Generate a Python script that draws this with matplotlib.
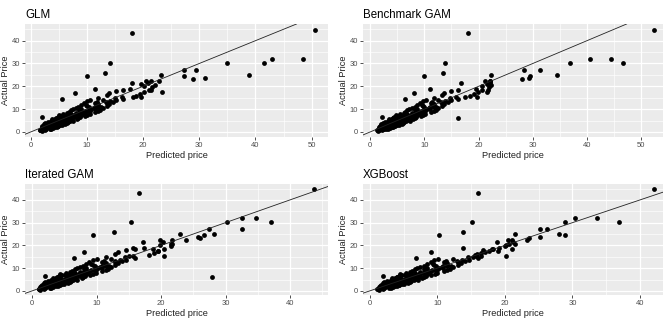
"""Actual vs predicted price for four models, ggplot-like 2x2 grid."""

import matplotlib
matplotlib.use('Agg')
import matplotlib.pyplot as plt
from matplotlib.ticker import MultipleLocator


# shared test-set actual prices (outliers first, then the main cluster)
actual = [
    44.6, 43.2, 30.4, 25.7, 24.5, 32.1, 32.1, 30.2, 30.2, 25.1,
    27.2, 27.2, 24.5, 23.2, 23.8, 25.1, 17.4, 22.2, 22.5, 22.2,
    20.7, 18.3, 15.2, 6.3, 6.5, 14.4, 17.2, 18.7, 21.3, 15.5,
    0.6, 0.8, 0.9, 1.0, 1.1, 1.2, 1.3, 1.4, 1.5, 1.6,
    1.7, 1.8, 1.9, 2.0, 2.1, 2.2, 2.3, 2.4, 2.5, 2.6,
    2.7, 2.8, 2.9, 3.0, 3.1, 3.2, 3.3, 3.4, 3.5, 3.6,
    3.7, 3.8, 3.9, 4.0, 4.1, 4.2, 4.3, 4.4, 4.5, 4.6,
    4.7, 4.8, 4.9, 5.0, 5.2, 5.4, 5.6, 5.8, 6.0, 6.2,
    6.4, 6.6, 6.8, 7.0, 7.2, 7.4, 7.6, 7.8, 8.0, 8.3,
    8.6, 8.9, 9.2, 9.5, 9.8, 10.1, 10.4, 10.7, 11.0, 11.4,
    11.8, 12.2, 12.6, 13.0, 13.4, 13.8, 14.2, 14.6, 15.0, 15.4,
    15.8, 16.2, 16.6, 17.0, 17.4, 17.8, 18.2, 18.6, 19.0, 19.6,
    20.2, 20.8, 21.4, 3.0, 4.0, 5.0, 6.0, 7.0, 8.0, 9.0,
    2.0, 2.5, 3.5, 4.5, 5.5, 6.5, 7.5, 10.0, 11.0, 12.0,
    1.0, 1.5, 2.0, 2.5, 3.0, 3.5, 4.0, 4.5, 5.0, 5.5,
    6.0, 6.5, 7.0, 7.5, 8.0, 8.5, 9.0, 9.5, 10.0, 10.5,
    11.0, 11.5, 12.5, 13.0, 13.5, 14.0, 1.2, 2.2, 3.2, 4.2,
    1.8, 2.6, 3.3, 4.1, 4.8, 5.3, 5.9, 6.4, 7.1, 7.7,
    8.2, 8.8, 9.4, 10.2, 10.8, 11.6, 12.3, 13.1, 3.6, 4.4,
    2.4, 3.0, 3.8, 4.6, 5.2, 5.8, 6.6, 7.3, 8.1, 9.1,
    0.9, 1.4, 2.9, 5.6, 6.9, 7.9, 9.7, 10.9, 12.9, 14.8,
]

pred_glm = [
    50.6, 18.0, 14.2, 13.2, 10.1, 43.0, 48.4, 34.9, 41.5, 38.9,
    27.3, 29.5, 27.3, 28.9, 31.0, 23.2, 23.4, 22.8, 21.4, 20.5,
    22.2, 21.4, 19.7, 7.2, 2.0, 5.6, 7.9, 11.4, 18.1, 18.2,
    2.1, 1.8, 2.5, 1.6, 3.4, 2.2, 1.9, 3.6, 2.4, 2.0,
    3.9, 2.6, 2.2, 4.3, 4.6, 2.7, 3.4, 2.5, 4.9, 3.2,
    2.5, 4.8, 3.5, 5.2, 2.6, 5.6, 3.0, 4.0, 6.2, 2.9,
    5.4, 3.2, 6.4, 3.3, 5.9, 3.1, 6.6, 4.0, 6.3, 3.6,
    7.0, 4.0, 6.2, 7.6, 4.2, 7.4, 4.5, 8.3, 4.6, 8.5,
    4.8, 8.8, 5.3, 9.6, 5.7, 9.0, 10.1, 5.8, 10.5, 6.5,
    11.5, 6.8, 12.0, 7.2, 12.4, 7.5, 12.8, 8.0, 12.0, 13.5,
    9.0, 14.0, 9.5, 14.6, 10.0, 15.2, 10.6, 16.5, 12.0, 16.2,
    18.8, 13.5, 19.5, 14.0, 20.2, 15.2, 21.0, 16.5, 17.6, 21.5,
    20.2, 19.6, 20.8, 4.5, 2.6, 5.9, 4.5, 6.2, 9.3, 10.2,
    2.6, 3.6, 2.4, 5.6, 3.8, 7.8, 5.0, 11.4, 8.5, 9.8,
    1.7, 2.8, 3.0, 2.1, 3.9, 4.5, 3.4, 5.3, 5.6, 4.3,
    5.0, 5.8, 8.0, 6.6, 7.2, 9.2, 10.5, 8.6, 9.0, 11.2,
    12.5, 10.0, 11.5, 11.8, 14.2, 12.8, 2.6, 2.0, 2.4, 4.8,
    2.5, 3.1, 3.9, 4.3, 5.5, 5.0, 6.6, 6.9, 7.3, 8.4,
    8.0, 9.6, 9.0, 10.8, 10.3, 11.9, 12.0, 13.4, 4.4, 4.9,
    3.2, 3.7, 4.5, 5.2, 5.9, 6.4, 7.1, 7.8, 8.7, 9.7,
    1.9, 2.3, 3.5, 6.3, 7.6, 8.6, 10.3, 11.4, 13.5, 15.0,
]

pred_gam = [
    52.4, 18.0, 13.9, 13.5, 10.0, 40.6, 44.5, 36.8, 46.7, 34.5,
    28.4, 31.4, 29.5, 28.1, 29.3, 22.3, 21.5, 22.2, 22.2, 21.2,
    22.3, 21.8, 19.8, 16.3, 2.2, 6.5, 8.1, 11.0, 16.8, 17.5,
    1.5, 1.3, 2.2, 1.4, 3.0, 1.9, 1.7, 3.3, 2.2, 1.6,
    3.6, 2.3, 2.0, 4.0, 4.3, 2.4, 3.1, 2.2, 4.6, 2.9,
    2.2, 4.5, 3.2, 4.9, 2.3, 5.3, 2.7, 3.7, 5.9, 2.6,
    5.1, 2.9, 6.1, 3.0, 5.6, 2.8, 6.3, 3.7, 6.0, 3.3,
    6.7, 3.7, 5.9, 7.3, 3.9, 7.1, 4.2, 8.0, 4.3, 8.2,
    4.5, 8.5, 5.0, 9.3, 5.4, 8.7, 9.8, 5.5, 10.2, 6.2,
    11.2, 6.5, 11.7, 6.9, 12.1, 7.2, 12.5, 7.7, 11.7, 13.2,
    8.7, 13.7, 9.2, 14.3, 9.7, 14.9, 10.3, 16.2, 11.7, 15.9,
    18.5, 13.2, 19.2, 13.7, 19.9, 14.9, 20.7, 16.2, 19.6, 21.9,
    20.7, 21.5, 22.1, 4.2, 2.3, 5.6, 4.2, 5.9, 9.0, 9.9,
    2.3, 3.3, 2.1, 5.3, 3.5, 7.5, 4.7, 11.1, 8.2, 9.5,
    1.4, 2.5, 2.7, 1.8, 3.6, 4.2, 3.1, 5.0, 5.3, 4.0,
    4.7, 5.5, 7.7, 6.3, 6.9, 8.9, 10.2, 8.3, 8.7, 10.9,
    12.2, 9.7, 11.2, 11.5, 13.9, 12.5, 2.3, 1.7, 2.1, 4.5,
    2.2, 2.8, 3.6, 4.0, 5.2, 4.7, 6.3, 6.6, 7.0, 8.1,
    7.7, 9.3, 8.7, 10.5, 10.0, 11.6, 11.7, 13.1, 4.1, 4.6,
    2.9, 3.4, 4.2, 4.9, 5.6, 6.1, 6.8, 7.5, 8.4, 9.4,
    1.6, 2.0, 3.2, 6.0, 7.3, 8.3, 10.0, 11.1, 13.2, 14.7,
]

pred_igam = [
    43.8, 16.6, 15.4, 12.7, 9.5, 32.5, 34.8, 30.2, 37.0, 28.2,
    27.4, 32.5, 26.6, 26.0, 25.8, 22.9, 19.5, 23.9, 21.7, 19.8,
    21.7, 18.7, 20.5, 27.9, 2.0, 6.5, 8.1, 15.6, 17.2, 15.0,
    1.2, 1.0, 1.9, 1.1, 2.8, 1.6, 1.4, 3.0, 1.9, 1.3,
    3.3, 2.0, 1.7, 3.7, 4.0, 2.1, 2.8, 1.9, 4.3, 2.6,
    1.9, 4.2, 2.9, 4.6, 2.0, 5.0, 2.4, 3.4, 5.6, 2.3,
    4.8, 2.6, 5.8, 2.7, 5.3, 2.5, 6.0, 3.4, 5.7, 3.0,
    6.4, 3.4, 5.6, 7.0, 3.6, 6.8, 3.9, 7.7, 4.0, 7.9,
    4.2, 8.2, 4.7, 9.0, 5.1, 8.4, 9.5, 5.2, 9.9, 5.9,
    10.9, 6.2, 11.4, 6.6, 11.8, 6.9, 12.2, 7.4, 11.4, 12.9,
    8.4, 13.4, 8.9, 14.0, 9.4, 14.6, 10.0, 15.9, 11.4, 15.6,
    18.2, 12.9, 18.9, 13.4, 19.6, 14.6, 20.4, 15.9, 17.3, 21.6,
    19.9, 21.6, 20.3, 3.9, 2.0, 5.3, 3.9, 5.6, 8.7, 9.6,
    2.0, 3.0, 1.8, 5.0, 3.2, 7.2, 4.4, 10.8, 7.9, 9.2,
    1.1, 2.2, 2.4, 1.5, 3.3, 3.9, 2.8, 4.7, 5.0, 3.7,
    4.4, 5.2, 7.4, 6.0, 6.6, 8.6, 9.9, 8.0, 8.4, 10.6,
    11.9, 9.4, 10.9, 11.2, 13.6, 12.2, 2.0, 1.4, 1.8, 4.2,
    1.9, 2.5, 3.3, 3.7, 4.9, 4.4, 6.0, 6.3, 6.7, 7.8,
    7.4, 9.0, 8.4, 10.2, 9.7, 11.3, 11.4, 12.8, 3.8, 4.3,
    2.6, 3.1, 3.9, 4.6, 5.3, 5.8, 6.5, 7.2, 8.1, 9.1,
    1.3, 1.7, 2.9, 5.7, 7.0, 8.0, 9.7, 10.8, 12.9, 14.4,
]

pred_xgb = [
    42.1, 16.0, 15.2, 13.8, 10.3, 30.4, 33.6, 28.9, 36.9, 28.0,
    25.2, 26.3, 28.9, 23.6, 25.2, 21.5, 19.0, 23.2, 21.0, 20.5,
    21.5, 21.0, 20.2, 7.3, 2.0, 6.8, 9.0, 13.8, 18.8, 16.5,
    1.3, 1.1, 2.0, 1.2, 2.9, 1.7, 1.5, 3.1, 2.0, 1.4,
    3.4, 2.1, 1.8, 3.8, 4.1, 2.2, 2.9, 2.0, 4.4, 2.7,
    2.0, 4.3, 3.0, 4.7, 2.1, 5.1, 2.5, 3.5, 5.7, 2.4,
    4.9, 2.7, 5.9, 2.8, 5.4, 2.6, 6.1, 3.5, 5.8, 3.1,
    6.5, 3.5, 5.7, 7.1, 3.7, 6.9, 4.0, 7.8, 4.1, 8.0,
    4.3, 8.3, 4.8, 9.1, 5.2, 8.5, 9.6, 5.3, 10.0, 6.0,
    11.0, 6.3, 11.5, 6.7, 11.9, 7.0, 12.3, 7.5, 11.5, 13.0,
    8.5, 13.5, 9.0, 14.1, 9.5, 14.7, 10.1, 16.0, 15.3, 15.7,
    15.6, 15.9, 16.4, 17.1, 17.6, 16.8, 18.1, 18.3, 19.2, 20.0,
    20.1, 20.6, 21.2, 4.0, 2.1, 5.4, 4.0, 5.7, 8.8, 9.7,
    2.1, 3.1, 1.9, 5.1, 3.3, 7.3, 4.5, 10.9, 8.0, 9.3,
    1.2, 2.3, 2.5, 1.6, 3.4, 4.0, 2.9, 4.8, 5.1, 3.8,
    4.5, 5.3, 7.5, 6.1, 6.7, 8.7, 10.0, 8.1, 8.5, 10.7,
    12.0, 9.5, 11.0, 11.3, 13.7, 12.3, 2.1, 1.5, 1.9, 4.3,
    2.0, 2.6, 3.4, 3.8, 5.0, 4.5, 6.1, 6.4, 6.8, 7.9,
    7.5, 9.1, 8.5, 10.3, 9.8, 11.4, 11.5, 12.9, 3.9, 4.4,
    2.7, 3.2, 4.0, 4.7, 5.4, 5.9, 6.6, 7.3, 8.2, 9.2,
    1.4, 1.8, 3.0, 5.8, 7.1, 8.1, 9.8, 10.9, 13.0, 14.5,
]

titles = ['GLM', 'Benchmark GAM', 'Iterated GAM', 'XGBoost']


def _style_axes(ax):
    ax.set_facecolor('#EBEBEB')
    for s in ax.spines.values():
        s.set_visible(False)
    ax.xaxis.set_major_locator(MultipleLocator(10))
    ax.xaxis.set_minor_locator(MultipleLocator(5))
    ax.yaxis.set_major_locator(MultipleLocator(10))
    ax.yaxis.set_minor_locator(MultipleLocator(5))
    ax.grid(which='major', color='white', linewidth=0.9)
    ax.grid(which='minor', color='white', linewidth=0.45)
    ax.set_axisbelow(True)
    ax.tick_params(which='major', length=2.0, width=0.6, color='#333333',
                   labelsize=5.5, labelcolor='#4D4D4D', pad=1.5)
    ax.tick_params(which='minor', length=0)


def _panel(ax, x, y, title, xlim, ylim):
    _style_axes(ax)
    ax.scatter(x, y, s=12, color='black', linewidths=0, zorder=3)
    ax.axline((0, 0), slope=1, color='#222222', linewidth=0.6, zorder=4)
    ax.set_xlim(xlim)
    ax.set_ylim(ylim)
    ax.set_title(title, loc='left', fontsize=8.3, pad=4, color='black')
    ax.set_xlabel('Predicted price', fontsize=6.7, labelpad=1.5,
                  color='#222222')
    ax.set_ylabel('Actual Price', fontsize=6.7, labelpad=1.5,
                  color='#222222')


def _main():
    plt.rcParams['font.family'] = ['Liberation Sans', 'DejaVu Sans']
    fig = plt.figure(figsize=(6.69, 3.22), dpi=100)

    boxes = [
        [0.0374, 0.5745, 0.4529, 0.3510],
        [0.5426, 0.5745, 0.4484, 0.3510],
        [0.0374, 0.0839, 0.4529, 0.3447],
        [0.5426, 0.0839, 0.4484, 0.3447],
    ]
    preds = [pred_glm, pred_gam, pred_igam, pred_xgb]
    xlims = [(-1.0, 52.9), (-1.3, 54.0), (-1.1, 45.9), (-1.0, 43.4)]
    ylims = [(-2.2, 47.3), (-2.2, 47.3), (-1.8, 47.0), (-1.8, 47.0)]

    for box, p, t, xl, yl in zip(boxes, preds, titles, xlims, ylims):
        ax = fig.add_axes(box)
        _panel(ax, p, actual, t, xl, yl)

    fig.savefig('out.png', dpi=100)


if __name__ == '__main__':
    _main()
